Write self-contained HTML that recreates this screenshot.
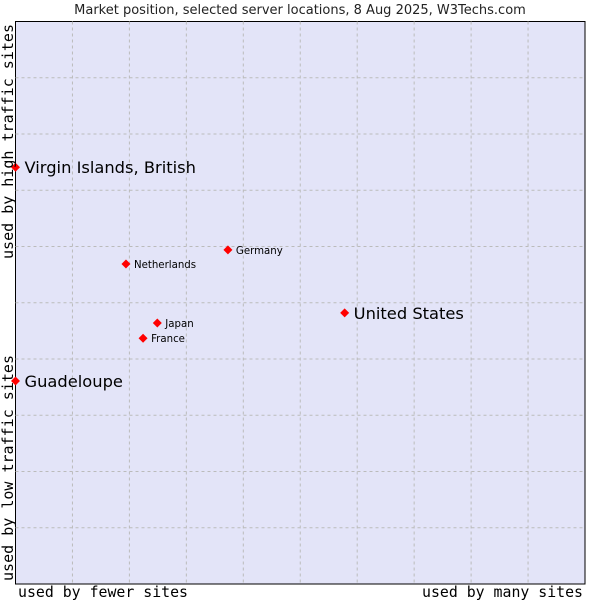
<!DOCTYPE html>
<html><head><meta charset="utf-8"><style>
body{margin:0;background:#fff;}
svg text{font-family:"DejaVu Sans","Liberation Sans",sans-serif;}
.mono{font-family:"DejaVu Sans Mono","Liberation Mono",monospace !important;}
</style></head><body>
<svg id="chart" width="600" height="600">
<text x="300" y="14" text-anchor="middle" font-size="13" fill="#222">Market position, selected server locations, 8 Aug 2025, W3Techs.com</text>
<rect x="15.5" y="21.5" width="569.5" height="562.5" fill="#e3e4f8" stroke="#000" stroke-width="1"/>
<g id="grid"></g>
<g id="points"></g>
<text class="mono" x="18" y="597" font-size="15" textLength="170" lengthAdjust="spacingAndGlyphs" fill="#000">used by fewer sites</text>
<text class="mono" x="422" y="597" font-size="15" textLength="161" lengthAdjust="spacingAndGlyphs" fill="#000">used by many sites</text>
<text class="mono" transform="translate(13,581) rotate(-90)" font-size="15" textLength="226" lengthAdjust="spacingAndGlyphs" fill="#000">used by low traffic sites</text>
<text class="mono" transform="translate(13,259) rotate(-90)" font-size="15" textLength="235" lengthAdjust="spacingAndGlyphs" fill="#000">used by high traffic sites</text>
</svg>
<script>
const names = ["Virgin Islands, British","Guadeloupe","United States","Germany","Netherlands","Japan","France"];
const xVals = [0,0,57.8,37.3,19.4,24.9,22.4];
const yVals = [74.1,36.1,48.2,59.4,56.9,46.4,43.7];
const big = [true,true,true,false,false,false,false];
const L=15.5,R=585,T=21.5,B=584;
const sx=v=>L+(R-L)*v/100, sy=v=>B-(B-T)*v/100;
const NS="http://www.w3.org/2000/svg";
const grid=document.getElementById('grid');
for(let i=1;i<10;i++){
  let l=document.createElementNS(NS,'line');
  l.setAttribute('x1',sx(i*10));l.setAttribute('x2',sx(i*10));l.setAttribute('y1',T);l.setAttribute('y2',B);
  l.setAttribute('stroke','#bbbbbb');l.setAttribute('stroke-dasharray','3,3');
  
  
  grid.appendChild(l);
  let h=document.createElementNS(NS,'line');
  h.setAttribute('y1',sy(i*10));h.setAttribute('y2',sy(i*10));h.setAttribute('x1',L);h.setAttribute('x2',R);
  h.setAttribute('stroke','#bbbbbb');h.setAttribute('stroke-dasharray','3,3');
  
  
  grid.appendChild(h);
}
const pts=document.getElementById('points');
names.forEach((n,i)=>{
  const x=sx(xVals[i]),y=sy(yVals[i]);
  let p=document.createElementNS(NS,'polygon');
  p.setAttribute('points',`${x},${y-4.5} ${x+4.5},${y} ${x},${y+4.5} ${x-4.5},${y}`);
  p.setAttribute('fill','#f00');
  
  
  pts.appendChild(p);
  let t=document.createElementNS(NS,'text');
  t.setAttribute('x',x+(big[i]?9:8));t.setAttribute('y',y+(big[i]?6:4));
  t.setAttribute('font-size',big[i]?16.3:10.2);t.setAttribute('fill','#000');
  t.textContent=n;
  
  
  pts.appendChild(t);
});
</script>
</body></html>
